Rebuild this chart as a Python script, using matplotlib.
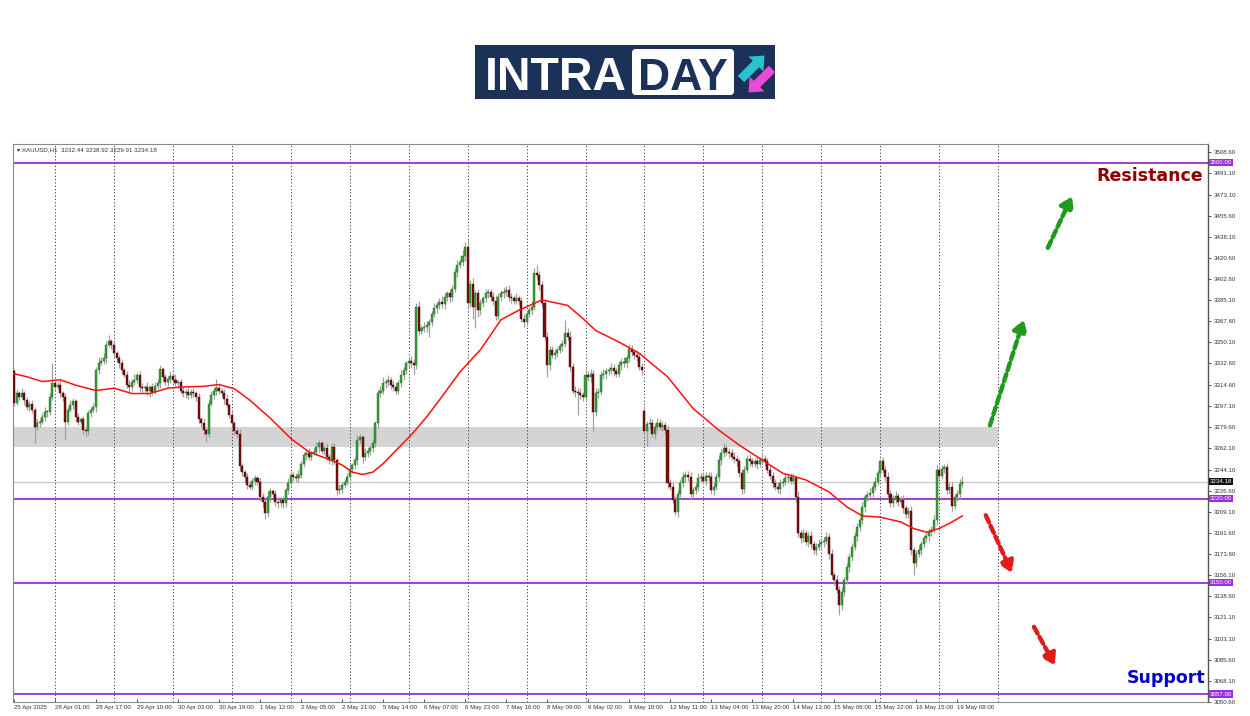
import matplotlib
matplotlib.use('Agg')
import matplotlib.pyplot as plt
import matplotlib.transforms as mtransforms
from matplotlib.patches import Rectangle, FancyBboxPatch, FancyArrow
import numpy as np

plt.rcParams['font.family'] = ['Liberation Sans', 'DejaVu Sans']

# ---------------- data ----------------
closes = [
    3300, 3308, 3305, 3308, 3302, 3296, 3299, 3294, 3280, 3283,
    3284, 3288, 3292, 3292, 3305, 3316, 3313, 3315, 3308, 3305,
    3284, 3294, 3298, 3301, 3288, 3284, 3286, 3277, 3276, 3291,
    3294, 3296, 3327, 3333, 3335, 3337, 3348, 3351, 3348, 3341,
    3337, 3333, 3327, 3323, 3315, 3313, 3317, 3319, 3323, 3313,
    3312, 3313, 3310, 3313, 3309, 3314, 3316, 3328, 3321, 3317,
    3320, 3322, 3319, 3316, 3317, 3310, 3308, 3309, 3306, 3309,
    3308, 3305, 3286, 3283, 3277, 3274, 3299, 3306, 3310, 3312,
    3310, 3308, 3303, 3298, 3290, 3283, 3276, 3274, 3247, 3242,
    3238, 3231, 3230, 3235, 3237, 3234, 3221, 3217, 3208, 3221,
    3226, 3224, 3217, 3216, 3219, 3216, 3227, 3233, 3240, 3238,
    3237, 3240, 3249, 3256, 3258, 3255, 3258, 3259, 3263, 3266,
    3260, 3262, 3255, 3252, 3263, 3252, 3227, 3228, 3231, 3234,
    3238, 3245, 3248, 3252, 3269, 3271, 3255, 3258, 3260, 3262,
    3266, 3283, 3308, 3310, 3316, 3317, 3319, 3315, 3313, 3310,
    3316, 3323, 3327, 3333, 3335, 3333, 3331, 3380, 3360, 3362,
    3363, 3365, 3367, 3374, 3379, 3381, 3384, 3382, 3388, 3391,
    3388, 3395, 3409, 3415, 3417, 3422, 3430, 3383, 3399, 3380,
    3391, 3377, 3383, 3387, 3391, 3392, 3388, 3385, 3372, 3388,
    3391, 3392, 3394, 3388, 3387, 3385, 3387, 3385, 3370, 3367,
    3374, 3377, 3380, 3408, 3406, 3398, 3383, 3355, 3331, 3344,
    3340, 3341, 3344, 3347, 3349, 3358, 3355, 3330, 3310, 3309,
    3308, 3306, 3305, 3323, 3321, 3324, 3292, 3308, 3309, 3323,
    3324, 3326, 3327, 3329, 3326, 3324, 3331, 3334, 3333, 3337,
    3345, 3342, 3340, 3338, 3330, 3327, 3276, 3282, 3283, 3274,
    3280, 3283, 3280, 3281, 3277, 3233, 3230, 3219, 3209, 3224,
    3233, 3238, 3240, 3238, 3224, 3227, 3230, 3237, 3238, 3235,
    3239, 3238, 3227, 3230, 3238, 3252, 3258, 3262, 3259, 3258,
    3255, 3253, 3251, 3241, 3228, 3244, 3253, 3251, 3249, 3251,
    3249, 3252, 3253, 3251, 3244, 3239, 3233, 3230, 3228, 3233,
    3234, 3237, 3238, 3235, 3237, 3221, 3191, 3187, 3191, 3184,
    3189, 3182, 3177, 3180, 3182, 3184, 3185, 3188, 3174, 3156,
    3152, 3144, 3131, 3142, 3152, 3163, 3171, 3180, 3189, 3196,
    3202, 3213, 3221, 3223, 3225, 3230, 3234, 3241, 3251, 3244,
    3238, 3224, 3216, 3220, 3222, 3217, 3219, 3212, 3207, 3210,
    3177, 3166, 3174, 3177, 3182, 3187, 3189, 3192, 3194, 3202,
    3244, 3239, 3245, 3246, 3227, 3230, 3214, 3221, 3224, 3232.44,
    3234.18,
]
first_open = 3326.0
gap_opens = {246: 3293.0}

wick_up = [
    2, 3, 2, 4, 2, 3, 2, 3, 2, 3,
    2, 3, 4, 2, 3, 17, 3, 2, 4, 2,
    3, 2, 4, 3, 2, 3, 2, 3, 2, 3,
    2, 4, 3, 5, 3, 4, 3, 5, 2, 3,
    2, 3, 3, 2, 3, 4, 3, 5, 2, 3,
    3, 2, 4, 2, 3, 3, 4, 3, 2, 3,
    2, 4, 3, 5, 2, 3, 3, 2, 4, 2,
    3, 2, 3, 2, 4, 2, 3, 4, 3, 8,
    3, 2, 3, 4, 2, 3, 2, 3, 4, 3,
    2, 3, 4, 2, 3, 2, 3, 4, 3, 5,
    3, 2, 3, 4, 2, 3, 2, 4, 3, 2,
    3, 4, 2, 3, 3, 4, 2, 3, 4, 3,
    2, 3, 4, 2, 3, 3, 2, 4, 3, 2,
    3, 4, 2, 3, 4, 3, 2, 4, 3, 3,
    4, 2, 3, 4, 5, 3, 4, 2, 3, 4,
    3, 4, 3, 2, 3, 4, 3, 3, 5, 3,
    4, 3, 3, 2, 4, 3, 3, 5, 3, 2,
    4, 3, 3, 4, 3, 5, 4, 6, 3, 5,
    3, 4, 3, 2, 4, 3, 3, 4, 5, 3,
    3, 4, 3, 4, 3, 3, 4, 3, 3, 4,
    3, 3, 5, 4, 7, 4, 3, 3, 4, 3,
    3, 4, 2, 3, 3, 11, 4, 5, 3, 4,
    3, 4, 3, 5, 3, 4, 3, 4, 3, 3,
    4, 3, 3, 4, 3, 3, 4, 3, 4, 3,
    4, 3, 3, 4, 3, 3, 4, 3, 4, 3,
    3, 4, 3, 4, 3, 4, 3, 4, 3, 3,
    3, 4, 3, 3, 4, 3, 3, 4, 3, 4,
    3, 3, 4, 3, 3, 4, 3, 4, 3, 3,
    3, 4, 3, 3, 4, 3, 3, 4, 3, 3,
    4, 3, 4, 3, 3, 4, 3, 3, 4, 3,
    3, 4, 3, 3, 4, 3, 5, 3, 4, 3,
    3, 4, 3, 3, 4, 3, 3, 4, 3, 4,
    3, 4, 3, 4, 3, 3, 4, 3, 3, 4,
    3, 4, 3, 3, 4, 3, 4, 3, 2, 4,
    3, 4, 3, 3, 4, 3, 3, 4, 3, 3,
    4, 3, 3, 4, 3, 3, 4, 3, 3, 4,
    4, 3, 3, 3, 4, 3, 4, 3, 3, 4,
    4.74,
]
wick_dn = [
    3, 2, 3, 2, 4, 2, 3, 3, 14, 3,
    3, 2, 3, 4, 2, 3, 3, 2, 3, 4,
    15, 3, 2, 3, 4, 3, 2, 3, 4, 3,
    3, 2, 4, 3, 2, 3, 4, 2, 3, 3,
    3, 4, 3, 2, 3, 4, 3, 2, 3, 4,
    3, 3, 4, 5, 3, 2, 3, 4, 3, 2,
    3, 4, 3, 2, 4, 3, 3, 4, 3, 2,
    3, 4, 3, 3, 4, 7, 3, 2, 3, 4,
    3, 3, 4, 2, 3, 4, 3, 3, 4, 3,
    4, 3, 2, 3, 4, 3, 3, 4, 5, 3,
    4, 3, 3, 4, 3, 4, 3, 3, 2, 3,
    3, 4, 3, 3, 4, 3, 3, 2, 3, 4,
    3, 4, 3, 3, 4, 3, 4, 3, 3, 2,
    3, 3, 4, 3, 4, 3, 5, 3, 3, 4,
    3, 3, 4, 3, 3, 4, 3, 4, 3, 3,
    3, 3, 4, 3, 3, 4, 7, 3, 4, 3,
    3, 4, 10, 3, 3, 4, 3, 3, 4, 3,
    4, 3, 3, 4, 3, 3, 4, 4, 3, 10,
    18, 6, 4, 3, 3, 4, 3, 4, 3, 3,
    3, 4, 3, 3, 4, 3, 3, 4, 3, 4,
    3, 3, 4, 3, 3, 4, 3, 3, 10, 4,
    3, 4, 3, 3, 4, 3, 3, 4, 3, 4,
    18, 3, 4, 3, 3, 4, 16, 3, 4, 3,
    3, 4, 3, 3, 4, 3, 3, 4, 3, 4,
    3, 3, 4, 3, 3, 4, 3, 12, 4, 3,
    4, 3, 3, 4, 3, 4, 3, 3, 3, 4,
    3, 3, 4, 3, 4, 3, 3, 4, 3, 3,
    4, 3, 3, 4, 3, 3, 4, 3, 3, 4,
    3, 3, 4, 3, 4, 3, 3, 4, 3, 3,
    4, 3, 3, 4, 3, 3, 4, 3, 3, 4,
    3, 3, 4, 3, 3, 4, 3, 4, 3, 3,
    4, 3, 3, 4, 3, 3, 4, 3, 4, 3,
    4, 3, 8, 4, 3, 3, 4, 3, 3, 4,
    3, 3, 4, 3, 3, 4, 3, 3, 4, 3,
    3, 4, 3, 3, 4, 3, 3, 4, 3, 3,
    4, 10, 3, 3, 4, 3, 3, 4, 3, 3,
    4, 3, 3, 4, 3, 3, 4, 3, 3, 4,
    2.53,
]

# moving average (red line), read at sample bars
ma_idx = [0, 5, 11, 18, 24, 32, 39, 46, 53, 60, 66, 74, 80, 86, 92, 100, 108,
          115, 123, 128, 132, 136, 140, 144, 149, 155, 161, 167, 174, 182, 190,
          197, 206, 216, 222, 227, 236, 244, 255, 265, 275, 283, 292, 300, 309,
          318, 325, 331, 338, 346, 351, 356, 361, 366, 370]
ma_val = [3324, 3321.5, 3317.5, 3319, 3314.5, 3310, 3312, 3307.5, 3307.5, 3312,
          3313, 3313.5, 3315, 3311.5, 3302, 3287, 3270, 3259, 3252.5, 3248,
          3242, 3240, 3242, 3249, 3260, 3273, 3288, 3305, 3325.5, 3344, 3369,
          3377, 3385.5, 3381, 3370, 3360, 3350.5, 3341, 3321.5, 3295, 3277,
          3264.5, 3252, 3241, 3235.5, 3225.5, 3213, 3205.5, 3204.5, 3200.5,
          3195, 3192, 3195, 3200.5, 3205.5]

time_labels = ['25 Apr 2025', '28 Apr 01:00', '28 Apr 17:00', '29 Apr 10:00',
               '30 Apr 03:00', '30 Apr 19:00', '1 May 12:00', '2 May 05:00',
               '2 May 21:00', '5 May 14:00', '6 May 07:00', '6 May 23:00',
               '7 May 16:00', '8 May 09:00', '9 May 02:00', '9 May 18:00',
               '12 May 11:00', '13 May 04:00', '13 May 20:00', '14 May 13:00',
               '15 May 06:00', '15 May 22:00', '16 May 15:00', '19 May 08:00']
bars_per_label = 16

price_ticks = [3508.60, 3491.10, 3473.10, 3455.60, 3438.10, 3420.60, 3402.60,
               3385.10, 3367.60, 3350.10, 3332.60, 3314.60, 3297.10, 3279.60,
               3262.10, 3244.10, 3226.60, 3209.10, 3191.60, 3173.60, 3156.10,
               3138.60, 3121.10, 3103.10, 3085.60, 3068.10, 3050.60]

level_lines = [3500.00, 3220.00, 3150.00, 3057.00]
last_price = 3234.18
zone_low, zone_high = 3263.0, 3280.0
zone_end_bar = 384
header = 'XAUUSD,H1  3232.44 3238.92 3229.91 3234.18'

# dashed projection arrows: (start bar, start price, end bar, end price, colour)
arrows = [
    (380.8, 3281, 394.0, 3369, '#1f9a1f'),
    (403.4, 3429, 412.8, 3472, '#1f9a1f'),
    (379.2, 3206, 389.4, 3158, '#e01b1b'),
    (398.0, 3113, 406.2, 3081, '#e01b1b'),
]

# ---------------- figure ----------------
W, H = 1250, 716
fig = plt.figure(figsize=(W / 100, H / 100), dpi=100)
fig.patch.set_facecolor('white')
ax = fig.add_axes([13 / W, 1 - 702 / H, 1195 / W, 558 / H])
ax.set_facecolor('white')

n = min(len(closes), len(wick_up), len(wick_dn))
c = np.array(closes[:n], dtype=float)
o = np.empty(n)
o[0] = first_open
o[1:] = c[:-1]
for k, v in gap_opens.items():
    if k < n:
        o[k] = v
hi = np.maximum(o, c) + np.array(wick_up[:n], dtype=float)
lo = np.minimum(o, c) - np.array(wick_dn[:n], dtype=float)
x = np.arange(n)
bull = c >= o

# gray zone
ax.add_patch(Rectangle((-1, zone_low), zone_end_bar + 1, zone_high - zone_low,
                       facecolor='#d4d4d4', edgecolor='none', zorder=1))

# vertical dotted grid
for g in range(16, zone_end_bar + 1, 23):
    ax.axvline(g, color='#3a3a3a', lw=0.7, ls=(0, (1.2, 2.2)), zorder=1.5)

# horizontal levels
for v in level_lines:
    ax.axhline(v, color='#9a2fcf', lw=1.3, zorder=2)
ax.axhline(last_price, color='#c8c8c8', lw=0.9, zorder=1.8)

# candles
ax.vlines(x, lo, hi, color='#a0a0a0', lw=0.9, zorder=3)
bottoms = np.minimum(o, c)
heights = np.maximum(np.abs(c - o), 0.6)
cols = np.where(bull, '#36a036', '#7a0d0d')
edges = np.where(bull, '#226622', '#4a0505')
ax.bar(x, heights, bottom=bottoms, width=0.8, color=cols, edgecolor=edges,
       linewidth=0.3, zorder=4)

# moving average
ax.plot(ma_idx, ma_val, color='#ff1010', lw=1.1, zorder=5)

# arrows
for (x0, y0, x1, y1, col) in arrows:
    ax.annotate('', xy=(x1, y1), xytext=(x0, y0),
                arrowprops=dict(arrowstyle='-|>,head_length=0.55,head_width=0.35',
                                color=col, lw=3.2, ls=(0, (1.7, 0.9)),
                                shrinkA=0, shrinkB=0, mutation_scale=12),
                zorder=6, annotation_clip=False)

# axes limits
ax.set_xlim(-0.4, 465.9)
ax.set_ylim(3050.4, 3515.5)

# y axis on the right
ax.yaxis.tick_right()
ax.set_yticks(price_ticks)
ax.set_yticklabels([f'{v:.2f}' for v in price_ticks])
ax.tick_params(axis='y', labelsize=4.4, length=2.5, width=0.6, colors='#333333', pad=1.5)

# x axis
xt = [i * bars_per_label for i in range(len(time_labels))]
ax.set_xticks(xt)
ax.set_xticklabels(time_labels)
ax.tick_params(axis='x', labelsize=4.4, length=2.5, width=0.6, colors='#333333',
               pad=2.5, direction='in')
for lbl in ax.get_xticklabels():
    lbl.set_horizontalalignment('left')

for s in ['top', 'left', 'bottom']:
    ax.spines[s].set_color('#8a8a8a')
    ax.spines[s].set_linewidth(0.8)
ax.spines['right'].set_color('#555555')
ax.spines['right'].set_linewidth(1.0)

# price boxes on the right axis
trans = mtransforms.blended_transform_factory(ax.transAxes, ax.transData)
for v in level_lines:
    ax.text(1.0015, v, f'{v:.2f}', transform=trans, fontsize=4.4, color='white',
            ha='left', va='center', zorder=10, clip_on=False,
            bbox=dict(boxstyle='square,pad=0.18', fc='#9b2fe0', ec='none'))
ax.text(1.0015, last_price, f'{last_price:.2f}', transform=trans, fontsize=4.4,
        color='white', ha='left', va='center', zorder=10, clip_on=False,
        bbox=dict(boxstyle='square,pad=0.18', fc='#111111', ec='none'))

# header
ax.text(0.003, 0.994, '\u25BE ' + header, transform=ax.transAxes, fontsize=4.5,
        color='#333333', ha='left', va='top', zorder=10)

# ---------------- overlay (logo and labels) ----------------
ov = fig.add_axes([0, 0, 1, 1])
ov.set_xlim(0, W)
ov.set_ylim(H, 0)
ov.axis('off')
ov.patch.set_alpha(0)

navy = '#1b3157'
ov.add_patch(Rectangle((475, 45), 300, 54, facecolor=navy, edgecolor='none'))
ov.add_patch(FancyBboxPatch((632, 49), 102, 46, boxstyle='round,pad=0,rounding_size=4',
                            facecolor='white', edgecolor='none'))
ov.text(485, 90, 'INTRA', color='white', fontsize=33.5, fontweight='bold',
        family=['Liberation Sans', 'DejaVu Sans'], ha='left', va='baseline')
ov.text(683, 90, 'DAY', color=navy, fontsize=32, fontweight='bold',
        family=['Liberation Sans', 'DejaVu Sans'], ha='center', va='baseline')
ov.add_patch(FancyArrow(741, 79, 15, -15, width=9, head_width=21, head_length=12,
                        length_includes_head=False, color='#27c4cf', lw=0))
ov.add_patch(FancyArrow(772, 69, -15, 15, width=9, head_width=21, head_length=12,
                        length_includes_head=False, color='#e84bd8', lw=0))

ov.text(1203, 176, 'Resistance', color='#900000', fontsize=12.5, fontweight='bold',
        family=['DejaVu Sans'], ha='right', va='center')
ov.text(1205, 678, 'Support', color='#0000d0', fontsize=12.5, fontweight='bold',
        family=['DejaVu Sans'], ha='right', va='center')

fig.savefig('out.png', dpi=100, facecolor='white')
